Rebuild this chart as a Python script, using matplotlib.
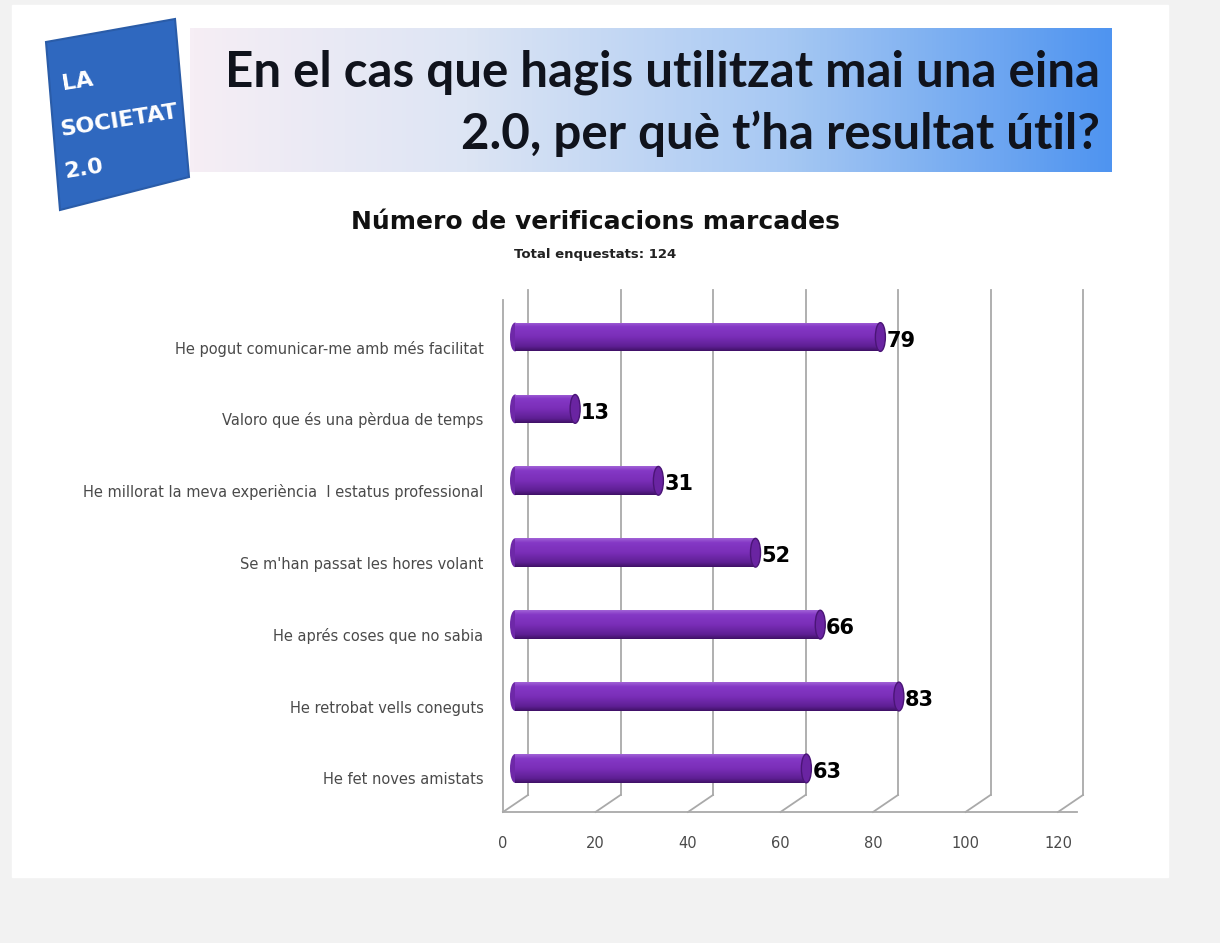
import matplotlib
matplotlib.use('Agg')
import matplotlib.pyplot as plt
import numpy as np
from matplotlib.patches import Rectangle, Polygon, Ellipse
from matplotlib.colors import LinearSegmentedColormap
from matplotlib import transforms

# Dades del gràfic
categories = [
    'He pogut comunicar-me amb més facilitat',
    'Valoro que és una pèrdua de temps',
    'He millorat la meva experiència  I estatus professional',
    "Se m'han passat les hores volant",
    'He aprés coses que no sabia',
    'He retrobat vells coneguts',
    'He fet noves amistats',
]
values = [79, 13, 31, 52, 66, 83, 63]
x_ticks = [0, 20, 40, 60, 80, 100, 120]

title_line1 = 'En el cas que hagis utilitzat mai una eina'
title_line2 = '2.0, per què t\u2019ha resultat útil?'
chart_title = 'Número de verificacions marcades'
chart_subtitle = 'Total enquestats: 124'

W, H = 1220, 943
fig = plt.figure(figsize=(W / 100, H / 100), dpi=100)
fig.patch.set_facecolor('#f2f2f2')


def fx(x):
    return x / W


def fy(y):
    return 1 - y / H


# Diapositiva blanca
fig.patches.append(Rectangle((fx(12), fy(877)), 1156 / W, 872 / H,
                             transform=fig.transFigure, color='white', zorder=-5))

# Banda del títol amb degradat
ax_ban = fig.add_axes([fx(190), fy(172), 922 / W, 144 / H])
ban_cmap = LinearSegmentedColormap.from_list(
    'ban', [(0, '#f6eef5'), (0.3, '#dde5f4'), (0.65, '#a6c8f3'), (1, '#4f94f0')])
ax_ban.imshow(np.linspace(0, 1, 256)[None, :], cmap=ban_cmap, aspect='auto',
              extent=(0, 1, 0, 1))
ax_ban.axis('off')

fig.text(fx(1100), fy(72), title_line1, ha='right', va='center',
         fontsize=35.5, fontweight='bold', family='Lato', color='#10131c')
fig.text(fx(1100), fy(134), title_line2, ha='right', va='center',
         fontsize=35.5, fontweight='bold', family='Lato', color='#10131c')

# Logotip
logo_pts = [(46, 42), (175, 19), (189, 177), (60, 210)]
fig.patches.append(Polygon([(fx(x), fy(y)) for x, y in logo_pts], closed=True,
                           transform=fig.transFigure, facecolor='#2f68bf',
                           edgecolor='#2a5ca8', lw=1.5, zorder=2))
for txt, (x, y) in zip(['LA', 'SOCIETAT', '2.0'], [(62, 84), (60, 130), (64, 172)]):
    fig.text(fx(x), fy(y), txt, ha='left', va='center', rotation=9,
             rotation_mode='anchor', fontsize=16, fontweight='bold',
             color='white', zorder=3)

# Títol del gràfic
fig.text(fx(595), fy(222), chart_title, ha='center', va='center',
         fontsize=18, fontweight='bold', color='#111111')
fig.text(fx(595), fy(254), chart_subtitle, ha='center', va='center',
         fontsize=9.5, fontweight='bold', color='#222222')

# Gràfic de barres (efecte 3D)
ax = fig.add_axes([fx(503), fy(812), 555 / W, 522 / H])
ax.set_xlim(0, 120)
ax.set_ylim(6.467, -0.793)
ax.patch.set_alpha(0)
for s in ax.spines.values():
    s.set_visible(False)

px_per_unit = 555 / 120
depth_x = 25 / px_per_unit
depth_y = 17 / 522
grid_col = '#a9a9a9'

back = transforms.blended_transform_factory(ax.transData, ax.transAxes)
for t in x_ticks:
    ax.plot([t + depth_x, t + depth_x], [depth_y, 1.0], color=grid_col, lw=1.3,
            transform=back, clip_on=False, zorder=1)
    ax.plot([t, t + depth_x], [0, depth_y], color=grid_col, lw=1.3,
            transform=back, clip_on=False, zorder=1)
ax.plot([0, 120 + 4], [0, 0], color=grid_col, lw=1.3, transform=back,
        clip_on=False, zorder=1)
ax.plot([0, 0], [0, 0.98], color=grid_col, lw=1.3, transform=back,
        clip_on=False, zorder=1)

bar_tr = ax.transData + transforms.ScaledTranslation(12 / 100, 10 / 100,
                                                     fig.dpi_scale_trans)
bar_h = 0.40
cap_w = 10 / px_per_unit
y_pos = np.arange(len(categories))

bar_cmap = LinearSegmentedColormap.from_list(
    'bar', [(0, '#a062d6'), (0.15, '#8538c6'), (0.5, '#7a2eb8'),
            (0.85, '#5e1f93'), (1, '#3f1166')])

for yi, v in zip(y_pos, values):
    # extrem esquerre arrodonit
    ax.add_patch(Ellipse((0, yi), cap_w, bar_h, transform=bar_tr,
                         facecolor='#6e28a8', edgecolor='none', zorder=2))

bars = ax.barh(y_pos, values, height=bar_h, color='#7a2eb8',
               transform=bar_tr, zorder=3)
for rect, yi, v in zip(bars, y_pos, values):
    im = ax.imshow(np.linspace(0, 1, 64)[:, None], cmap=bar_cmap, aspect='auto',
                   extent=(0, v, yi + bar_h / 2, yi - bar_h / 2), zorder=3.5,
                   origin='upper')
    im.set_transform(bar_tr)
    im.set_clip_path(rect)
    ax.add_patch(Ellipse((v, yi), cap_w, bar_h, transform=bar_tr,
                         facecolor='#6a24a2', edgecolor='#4a1576', lw=1,
                         zorder=4))
    ax.text(v + cap_w / 2 + 0.2, yi + 0.05, str(v), transform=bar_tr,
            ha='left', va='center', fontsize=15, fontweight='bold',
            color='black', zorder=5)

ax.set_ylim(6.467, -0.793)
ax.set_xlim(0, 120)

ax.set_yticks(y_pos)
ax.set_yticklabels(categories, fontsize=10.5, color='#4a4a4a')
ax.set_xticks(x_ticks)
ax.set_xticklabels([str(t) for t in x_ticks], fontsize=10.5, color='#4a4a4a')
ax.tick_params(axis='y', length=0, pad=14)
ax.tick_params(axis='x', length=0, pad=17)

fig.savefig('out.png', dpi=100, facecolor=fig.get_facecolor())
